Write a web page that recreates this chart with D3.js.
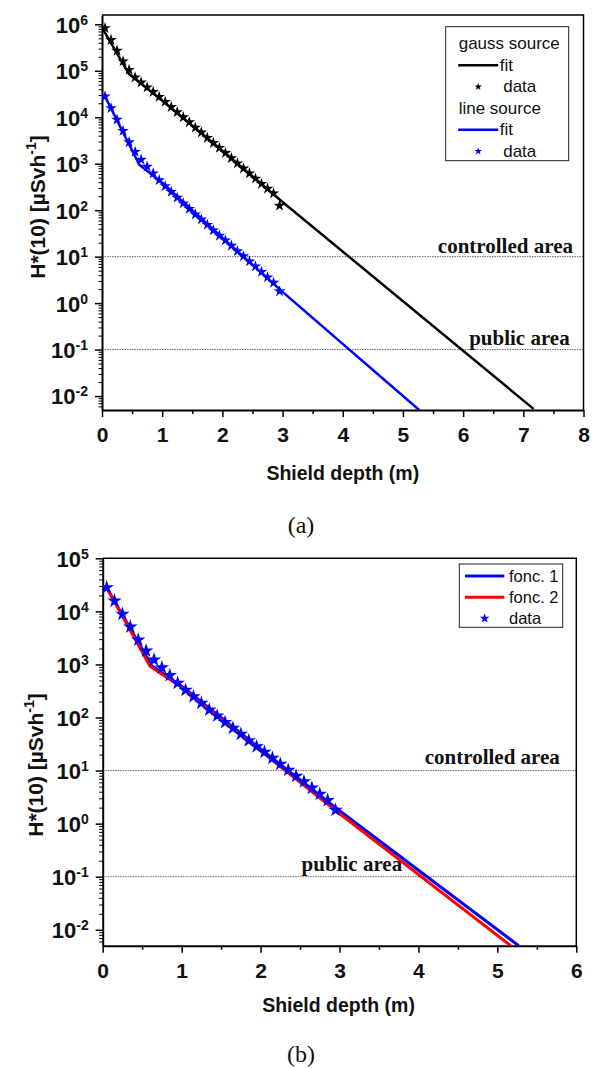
<!DOCTYPE html>
<html>
<head>
<meta charset="utf-8">
<script src="https://cdn.jsdelivr.net/npm/d3@7"></script>
<style>
  body { margin: 0; background: #fff; }
  svg { display: block; }
</style>
</head>
<body>
<svg id="fig" width="596" height="1068"></svg>
<script>
// Shield depth (m) at which the dose rate was computed
const depth = [0.05, 0.15, 0.25, 0.35, 0.45, 0.55, 0.65, 0.75, 0.85, 0.95,
               1.05, 1.15, 1.25, 1.35, 1.45, 1.55, 1.65, 1.75, 1.85, 1.95,
               2.05, 2.15, 2.25, 2.35, 2.45, 2.55, 2.65, 2.75, 2.85, 2.95];

// H*(10) in µSv/h, gauss source
const gaussData = [8.3e5, 4.6e5, 2.7e5, 1.6e5, 1.05e5, 7.2e4, 5.6e4, 4.4e4, 3.5e4, 2.75e4,
                   2.15e4, 1.66e4, 1.29e4, 1.0e4, 7.8e3, 6.0e3, 4.7e3, 3.6e3, 2.8e3, 2.2e3,
                   1.7e3, 1.32e3, 1.02e3, 790, 620, 480, 370, 290, 230, 125];

// H*(10) in µSv/h, line source
const lineData = [2.8e4, 1.57e4, 8.9e3, 5.1e3, 2.9e3, 1.8e3, 1.22e3, 870, 620, 445,
                  330, 248, 186, 140, 107, 81, 63, 48.5, 36.8, 28.2,
                  22.4, 17.2, 13.2, 10.2, 7.9, 6.2, 4.7, 3.6, 2.75, 1.8];

// Fitted curves (depth, dose) and their extrapolation
const gaussFitDepth = [0, 0.45, 1, 2, 3, 7.17];
const gaussFitDose  = [8.5e5, 8.5e4, 2.3e4, 1.9e3, 150, 5.3e-3];
const lineFitDepth  = [0.05, 0.62, 1, 2, 3, 5.27];
const lineFitDose   = [2.8e4, 950, 390, 25.5, 1.75, 5.0e-3];
const fonc1Depth    = [0.05, 0.62, 1, 2, 3, 5.27];
const fonc1Dose     = [2.8e4, 950, 390, 25.5, 1.75, 5.0e-3];
const fonc2Depth    = [0.05, 0.6, 1, 2, 3, 5.17];
const fonc2Dose     = [2.8e4, 920, 370, 23.5, 1.55, 5.0e-3];

// Dose limits
const limitValues = [10, 0.1];
const limitLabels = ["controlled area", "public area"];

// Axis ticks
const xTicksA = [0, 1, 2, 3, 4, 5, 6, 7, 8];
const xTicksB = [0, 1, 2, 3, 4, 5, 6];
const yExpA = [-2, -1, 0, 1, 2, 3, 4, 5, 6];
const yExpB = [-2, -1, 0, 1, 2, 3, 4, 5];

const SANS = "'Liberation Sans', Arial, Helvetica, sans-serif";
const SERIF = "'Liberation Serif', 'Times New Roman', serif";
const svg = d3.select("#fig");
const defs = svg.append("defs");

const zip = (xs, ys) => xs.map((v, i) => [v, ys[i]]);

function drawPanel(cfg) {
  const g = svg.append("g");
  const x = d3.scaleLinear().domain(cfg.xDomain).range([cfg.left, cfg.right]);
  const y = d3.scaleLog().domain(cfg.yDomain).range([cfg.bottom, cfg.top]);

  defs.append("clipPath").attr("id", "clip-" + cfg.id)
    .append("rect")
    .attr("x", cfg.left).attr("y", cfg.top - 2)
    .attr("width", cfg.right - cfg.left).attr("height", cfg.bottom - cfg.top + 2);

  // dose limit lines
  limitValues.forEach((v, i) => {
    g.append("line")
      .attr("x1", cfg.left).attr("x2", cfg.right)
      .attr("y1", y(v)).attr("y2", y(v))
      .attr("stroke", "#666").attr("stroke-width", 1)
      .attr("stroke-dasharray", "1.5,1");
    g.append("text")
      .attr("x", x(cfg.limitX[i])).attr("y", y(v) - cfg.limitDy[i])
      .attr("font-family", SERIF).attr("font-weight", "bold")
      .attr("font-size", 21).attr("fill", "#111")
      .text(limitLabels[i]);
  });

  // frame (top and right)
  g.append("path")
    .attr("d", `M${cfg.left},${cfg.top}H${cfg.right}V${cfg.bottom}`)
    .attr("fill", "none").attr("stroke", "#000").attr("stroke-width", 1.5);

  // x axis
  const xMinor = d3.range(cfg.xDomain[0] + 0.5, cfg.xDomain[1], 1);
  g.append("g").attr("transform", `translate(0,${cfg.bottom})`)
    .call(d3.axisBottom(x).tickValues(xMinor).tickSize(4).tickFormat(""))
    .call(a => a.select(".domain").remove())
    .call(a => a.selectAll("line").attr("stroke-width", 1.5));
  const xa = g.append("g").attr("transform", `translate(0,${cfg.bottom})`)
    .call(d3.axisBottom(x).tickValues(cfg.xTicks).tickSize(7).tickSizeOuter(0).tickPadding(11)
      .tickFormat(d3.format("d")));
  xa.select(".domain").attr("stroke-width", 2);
  xa.selectAll("line").attr("stroke-width", 1.5);
  xa.selectAll("text")
    .attr("font-family", SANS).attr("font-weight", "bold").attr("font-size", 21)
    .attr("fill", "#111").attr("dy", "0.68em");

  // y axis, minor ticks
  const yMinor = [];
  const lo = Math.floor(Math.log10(cfg.yDomain[0])), hi = Math.ceil(Math.log10(cfg.yDomain[1]));
  for (let e = lo; e <= hi; e++) {
    for (let m = 2; m <= 9; m++) {
      const v = m * Math.pow(10, e);
      if (v >= cfg.yDomain[0] && v <= cfg.yDomain[1]) yMinor.push(v);
    }
  }
  g.append("g").attr("transform", `translate(${cfg.left},0)`)
    .call(d3.axisLeft(y).tickValues(yMinor).tickSize(3.5).tickFormat(""))
    .call(a => a.select(".domain").remove())
    .call(a => a.selectAll("line").attr("stroke-width", 1));
  const ya = g.append("g").attr("transform", `translate(${cfg.left},0)`)
    .call(d3.axisLeft(y).tickValues(cfg.yExp.map(e => Math.pow(10, e)))
      .tickSize(7).tickSizeOuter(0).tickPadding(8).tickFormat(""));
  ya.select(".domain").attr("stroke-width", 2);
  ya.selectAll("line").attr("stroke-width", 1.5);
  ya.selectAll(".tick text").each(function (d) {
    const t = d3.select(this)
      .attr("font-family", SANS).attr("font-weight", "bold").attr("font-size", 22)
      .attr("fill", "#111").attr("dy", "0.36em").attr("x", -14);
    t.append("tspan").text("10");
    t.append("tspan").attr("font-size", 14).attr("dy", -8)
      .text(String(Math.round(Math.log10(d))));
  });

  // axis titles
  g.append("text")
    .attr("x", (cfg.left + cfg.right) / 2 + cfg.xTitleDx).attr("y", cfg.xTitleY)
    .attr("text-anchor", "middle")
    .attr("font-family", SANS).attr("font-weight", "bold").attr("font-size", 19.5)
    .attr("fill", "#111")
    .text("Shield depth (m)");
  const yt = g.append("text")
    .attr("transform", `translate(${cfg.yTitleX},${cfg.yTitleY}) rotate(-90)`)
    .attr("text-anchor", "middle")
    .attr("font-family", SANS).attr("font-weight", "bold").attr("font-size", 21)
    .attr("fill", "#111");
  yt.append("tspan").text("H*(10) [µSvh");
  yt.append("tspan").attr("font-size", 14).attr("dy", -9).text("-1");
  yt.append("tspan").attr("dy", 9).text("]");

  // caption
  g.append("text")
    .attr("x", 301).attr("y", cfg.captionY)
    .attr("text-anchor", "middle")
    .attr("font-family", SERIF).attr("font-size", 24).attr("fill", "#111")
    .text(cfg.caption);

  const plot = g.append("g").attr("clip-path", `url(#clip-${cfg.id})`);
  const line = d3.line().x(d => x(d[0])).y(d => y(d[1]));
  cfg.curves.forEach(c => {
    plot.append("path").datum(zip(c.xs, c.ys))
      .attr("d", line).attr("fill", "none")
      .attr("stroke", c.color).attr("stroke-width", c.width)
      .attr("stroke-linejoin", "round");
  });
  cfg.points.forEach(p => {
    plot.selectAll(null).data(zip(depth, p.ys)).join("path")
      .attr("transform", d => `translate(${x(d[0])},${y(d[1])})`)
      .attr("d", d3.symbol(d3.symbolStar).size(p.size))
      .attr("fill", p.color);
  });

  // legend
  const L = cfg.legend;
  const lg = g.append("g");
  lg.append("rect").attr("x", L.x).attr("y", L.y).attr("width", L.w).attr("height", L.h)
    .attr("fill", "#fff").attr("stroke", "#222").attr("stroke-width", 1);
  L.items.forEach((it, i) => {
    const cy = L.y + L.firstRow + i * L.rowStep;
    if (it.type === "line") {
      lg.append("line").attr("x1", L.x + L.sx0).attr("x2", L.x + L.sx1)
        .attr("y1", cy).attr("y2", cy)
        .attr("stroke", it.color).attr("stroke-width", it.width);
    } else if (it.type === "star") {
      lg.append("path").attr("transform", `translate(${L.x + (L.sx0 + L.sx1) / 2},${cy})`)
        .attr("d", d3.symbol(d3.symbolStar).size(L.starSize)).attr("fill", it.color);
    }
    lg.append("text")
      .attr("x", L.x + (it.type === "head" ? L.headX : it.type === "line" ? L.textX : L.textX + L.dataShift))
      .attr("y", cy + L.baseDy)
      .attr("font-family", SANS).attr("font-size", L.fontSize).attr("fill", "#111")
      .text(it.label);
  });
}

drawPanel({
  id: "a", caption: "(a)", captionY: 533,
  left: 102, right: 583.5, top: 15, bottom: 410,
  xDomain: [0, 8], yDomain: [Math.pow(10, -2.3), Math.pow(10, 6.2)],
  xTicks: xTicksA, yExp: yExpA,
  xTitleY: 480, xTitleDx: 0, yTitleX: 45, yTitleY: 207,
  limitX: [5.58, 6.1], limitDy: [4, 5],
  curves: [
    { xs: gaussFitDepth, ys: gaussFitDose, color: "#000", width: 2.5 },
    { xs: lineFitDepth, ys: lineFitDose, color: "#0000ff", width: 2.5 }
  ],
  points: [
    { ys: gaussData, color: "#000", size: 42 },
    { ys: lineData, color: "#0000ff", size: 42 }
  ],
  legend: {
    x: 445.7, y: 26.7, w: 123, h: 134, firstRow: 17, rowStep: 21.5,
    sx0: 12.5, sx1: 52.5, headX: 13, textX: 54, dataShift: 3.5, baseDy: 5.5,
    fontSize: 17, starSize: 18,
    items: [
      { type: "head", label: "gauss source" },
      { type: "line", label: "fit", color: "#000", width: 2.5 },
      { type: "star", label: "data", color: "#000" },
      { type: "head", label: "line source" },
      { type: "line", label: "fit", color: "#0000ff", width: 2.5 },
      { type: "star", label: "data", color: "#0000ff" }
    ]
  }
});

drawPanel({
  id: "b", caption: "(b)", captionY: 1062,
  left: 102.7, right: 576.3, top: 558.3, bottom: 945.7,
  xDomain: [0, 6], yDomain: [Math.pow(10, -2.3), 1e5],
  xTicks: xTicksB, yExp: yExpB,
  xTitleY: 1011.5, xTitleDx: -1, yTitleX: 43, yTitleY: 765,
  limitX: [4.08, 2.52], limitDy: [6.5, 6],
  curves: [
    { xs: fonc1Depth, ys: fonc1Dose, color: "#0000ff", width: 3 },
    { xs: fonc2Depth, ys: fonc2Dose, color: "#ff0000", width: 3 }
  ],
  points: [
    { ys: lineData, color: "#0000ff", size: 65 }
  ],
  legend: {
    x: 459.3, y: 564, w: 103.4, h: 63.3, firstRow: 12, rowStep: 21.2,
    sx0: 5.7, sx1: 45, headX: 5, textX: 49.7, dataShift: 0, baseDy: 6,
    fontSize: 16.5, starSize: 30,
    items: [
      { type: "line", label: "fonc. 1", color: "#0000ff", width: 3 },
      { type: "line", label: "fonc. 2", color: "#ff0000", width: 3 },
      { type: "star", label: "data", color: "#0000ff" }
    ]
  }
});
</script>
</body>
</html>
